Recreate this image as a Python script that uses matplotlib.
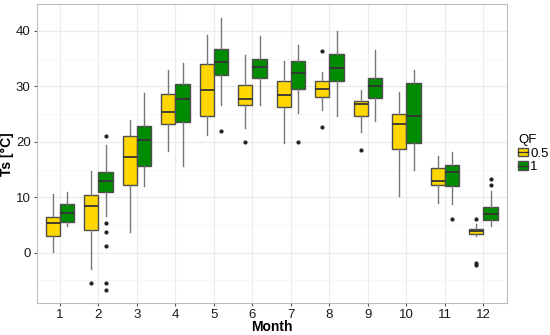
import matplotlib
matplotlib.use("Agg")
from matplotlib import pyplot as plt
from matplotlib.patches import Patch
from matplotlib.lines import Line2D

plt.rcParams["font.family"] = ["Liberation Sans", "DejaVu Sans"]

#Data
months = [1, 2, 3, 4, 5, 6, 7, 8, 9, 10, 11, 12]
groups = ["0.5", "1"]

# QF = 0.5 : whislo, q1, med, q3, whishi
y_whislo = [0.2, -3.0, 3.7, 18.4, 21.3, 22.5, 19.8, 25.8, 21.8, 10.2, 8.9, 3.05]
y_q1 = [2.95, 4.15, 12.3, 23.2, 24.6, 26.6, 26.3, 28.05, 24.6, 18.7, 12.3, 3.3]
y_med = [5.3, 8.35, 17.3, 25.4, 29.4, 27.75, 28.5, 29.55, 26.8, 23.2, 13.0, 3.9]
y_q3 = [6.4, 10.45, 21.0, 28.6, 34.05, 30.3, 30.9, 31.0, 27.3, 25.0, 15.3, 4.3]
y_whishi = [10.6, 14.8, 23.9, 33.0, 39.2, 35.7, 34.5, 32.6, 29.4, 28.95, 17.4, 5.1]
y_fliers = [[], [-5.4], [], [], [], [19.9], [], [36.4, 22.6], [18.6], [], [], [6.1, -1.8, -2.3]]

# QF = 1
g_whislo = [4.9, 6.7, 12.0, 15.6, 26.7, 26.7, 25.2, 24.7, 23.7, 15.0, 8.8, 4.8]
g_q1 = [5.5, 10.9, 15.7, 23.6, 32.0, 31.5, 29.55, 30.9, 27.9, 19.8, 12.0, 5.9]
g_med = [7.1, 13.0, 20.25, 27.8, 34.4, 33.5, 32.4, 33.3, 30.0, 24.7, 14.5, 7.0]
g_q3 = [8.7, 14.6, 22.8, 30.4, 36.7, 35.0, 34.5, 35.9, 31.5, 30.6, 15.85, 8.3]
g_whishi = [10.9, 19.4, 28.9, 34.3, 42.3, 39.1, 37.5, 40.0, 36.5, 33.0, 18.1, 11.2]
g_fliers = [[], [21.0, 5.35, 3.7, 1.3, -5.5, -6.7], [], [], [22.0], [], [19.9], [], [], [], [6.0], [13.3, 12.2]]

colors = ["#FFD700", "#008B00"]
edge = "#4d4d4d"

def make_stats(lo, q1, med, q3, hi, fl):
    stats = []
    for i in range(len(months)):
        stats.append(dict(whislo=lo[i], q1=q1[i], med=med[i], q3=q3[i],
                          whishi=hi[i], fliers=fl[i]))
    return stats

#Figure Setup
fig = plt.figure(figsize=(5.5, 3.35), dpi=100)
ax = fig.add_axes([0.067, 0.095, 0.854, 0.892])

width = 0.375
offsets = [-width / 2, width / 2]
all_stats = [make_stats(y_whislo, y_q1, y_med, y_q3, y_whishi, y_fliers),
             make_stats(g_whislo, g_q1, g_med, g_q3, g_whishi, g_fliers)]

for stats, off, col in zip(all_stats, offsets, colors):
    pos = [m + off for m in months]
    ax.bxp(stats, positions=pos, widths=width, patch_artist=True,
           showcaps=False, manage_ticks=False,
           boxprops=dict(facecolor=col, edgecolor=edge, linewidth=1.0),
           medianprops=dict(color="#333333", linewidth=1.3),
           whiskerprops=dict(color="#777777", linewidth=1.0),
           flierprops=dict(marker="o", markersize=2, markerfacecolor="#222222",
                           markeredgecolor="#222222"))

#Axes styling
ax.set_xlim(0.4, 12.6)
ax.set_ylim(-9.1, 44.8)
ax.set_xticks(months)
ax.set_xticklabels([str(m) for m in months])
ax.set_yticks([0, 10, 20, 30, 40])
ax.set_yticks([-5, 5, 15, 25, 35], minor=True)
ax.grid(True, which="major", color="#ebebeb", linewidth=0.8)
ax.grid(True, which="minor", axis="y", color="#f4f4f4", linewidth=0.5)
ax.set_axisbelow(True)
for s in ax.spines.values():
    s.set_color("#bdbdbd")
ax.tick_params(axis="both", which="major", length=2.5, color="#555555",
               labelsize=9.5, labelcolor="#1a1a1a", pad=2)
ax.tick_params(axis="y", which="minor", length=0)

ax.set_xlabel("Month", fontsize=10, fontweight="bold", labelpad=-1)
ax.set_ylabel("Ts [°C]", fontsize=10, fontweight="bold", labelpad=1)

#Legend
handles = [(Patch(facecolor=c, edgecolor=edge),
            Line2D([], [], color="#333333", linewidth=1.0)) for c in colors]
leg = ax.legend(handles, groups, title="QF", loc="center left",
                bbox_to_anchor=(1.0, 0.5), frameon=False, fontsize=9.5,
                title_fontsize=9.5, handlelength=0.7, handleheight=0.6,
                handletextpad=0.2, borderaxespad=0.5, labelspacing=0.1)
leg._legend_box.align = "left"

fig.savefig("out.png", dpi=100)
